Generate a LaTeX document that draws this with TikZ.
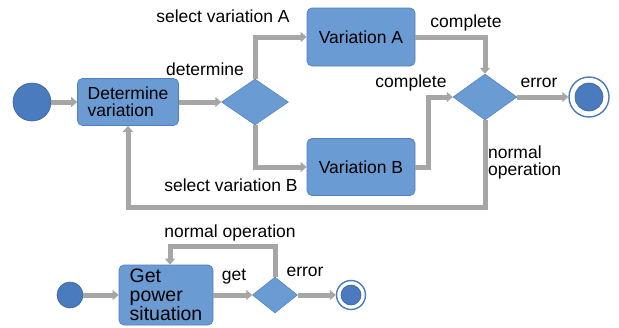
\documentclass[tikz,border=0pt]{standalone}
\usepackage{fontspec}
\setmainfont{Liberation Sans}
\usetikzlibrary{positioning, arrows.meta, shapes.geometric}
\definecolor{actblue}{HTML}{6A9BD3}
\definecolor{actborder}{HTML}{4F7FBF}
\definecolor{initblue}{HTML}{4A7BBE}
\definecolor{flowgray}{HTML}{A6A6A6}

\begin{document}
\begin{tikzpicture}[
  x=1pt, y=-1pt,
  activity/.style={
    rectangle, rounded corners=5pt, draw=actborder, fill=actblue,
    line width=0.7pt, inner sep=0pt, align=left,
    font=\fontsize{17.5}{17}\selectfont
  },
  decision/.style={
    diamond, draw=actborder, fill=actblue, line width=0.5pt, inner sep=0pt
  },
  initial/.style={
    circle, draw=initblue!80!black, fill=initblue, line width=0.6pt, inner sep=0pt
  },
  finalring/.style={
    circle, draw=initblue, fill=white, line width=1.4pt, inner sep=0pt
  },
  lbl/.style={font=\fontsize{17.5}{17}\selectfont, align=left, inner sep=0pt},
  arr/.style={-{Triangle[length=6pt, width=10pt]}, line width=5pt, color=flowgray},
]
\useasboundingbox (0,0) rectangle (619,327);

% Upper flow
\node[initial, minimum size=38pt] (start1) at (32,102) {};
\node[activity, minimum width=101pt, minimum height=47pt] (detvar) at (128,102) {Determine\\variation};
\node[decision, minimum width=67pt, minimum height=46pt] (decvar) at (255,102) {};
\node[activity, minimum width=108pt, minimum height=58pt] (varA) at (361,37) {Variation A};
\node[activity, minimum width=108pt, minimum height=57pt] (varB) at (361,167) {Variation B};
\node[decision, minimum width=64pt, minimum height=46pt] (decres) at (485,97) {};
\node[finalring, minimum size=40pt] (end1) at (589,97) {};
\node[initial, minimum size=28pt] (end1dot) at (end1) {};

% Lower flow
\node[initial, minimum size=26pt] (start2) at (70,295) {};
\node[activity, minimum width=94pt, minimum height=60pt, font=\fontsize{19.5}{19}\selectfont] (power) at (166,295) {Get\\power\\situation};
\node[decision, minimum width=45pt, minimum height=36pt] (decpow) at (275,295) {};
\node[finalring, minimum size=29pt] (end2) at (351,295) {};
\node[initial, minimum size=20pt] (end2dot) at (end2) {};
\coordinate (powertop) at ([xshift=4pt]power.north);

% Labels
\node[lbl] (lselA) at (223,16) {select variation A};
\node[lbl] (ldet) at (205,69) {determine};
\node[lbl] (lselB) at (231,185) {select variation B};
\node[lbl] (lcompA) at (466,23) {complete};
\node[lbl] (lcompB) at (411,83) {complete};
\node[lbl] (lerr1) at (539,83) {error};
\node[lbl, anchor=west] (lnorm1) at (488,162) {normal\\operation};
\node[lbl] (lnorm2) at (230,233) {normal operation};
\node[lbl] (lget) at (234,277) {get};
\node[lbl] (lerr2) at (305,272) {error};

% Upper arrows
\draw[arr] (start1) -- (detvar);
\draw[arr] (detvar) -- (decvar);
\draw[arr] (decvar.north) |- (varA.west);
\draw[arr] (decvar.south) |- (varB.west);
\draw[arr] (varA.east) -| (decres.north);
\draw[arr] (varB.east) -- ++(13,0) |- (decres.west);
\draw[arr] (decres) -- (end1);
\draw[arr] (decres.south) -- ++(0,87) -| (detvar.south);

% Lower arrows
\draw[arr] (start2) -- (power);
\draw[arr] (power) -- (decpow);
\draw[arr] (decpow) -- (end2);
\draw[arr] (decpow.north) -- ++(0,-30) -| (powertop);

\end{tikzpicture}
\end{document}
